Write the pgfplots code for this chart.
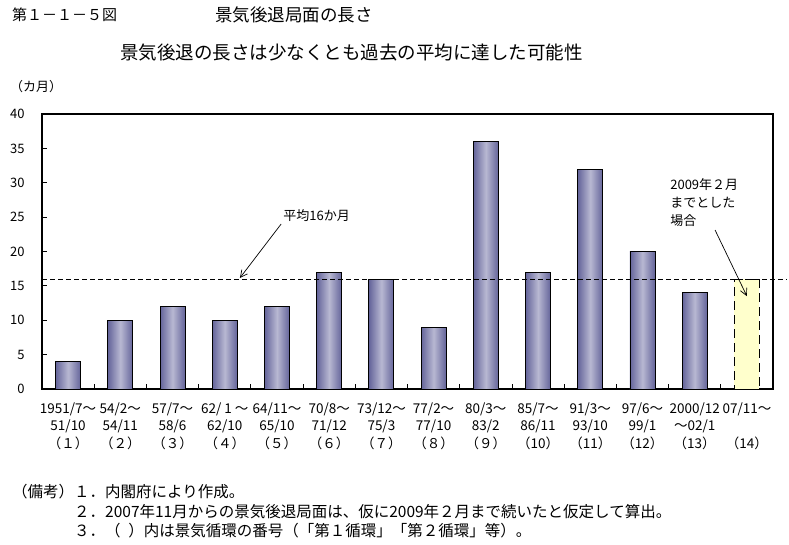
\documentclass[border=0pt]{standalone}
\usepackage{fontspec}
\setmainfont{Noto Sans CJK JP}
\usepackage{pgfplots}
\pgfplotsset{compat=1.18}
\usetikzlibrary{arrows.meta}
\definecolor{bardark}{HTML}{64649A}
\definecolor{barlight}{HTML}{B8B8D2}
\definecolor{paleyellow}{HTML}{FFFFCC}

\begin{document}
\begin{tikzpicture}
\path (0,0) rectangle (789pt,-544pt);
% titles
\node[anchor=west,inner sep=0,font=\fontsize{15}{15}\selectfont] at (12pt,-15pt) {第１－１－５図};
\node[anchor=west,inner sep=0,font=\fontsize{17.5}{17.5}\selectfont] at (215pt,-15pt) {景気後退局面の長さ};
\node[anchor=west,inner sep=0,font=\fontsize{18.5}{18.5}\selectfont] at (120pt,-53pt) {景気後退の長さは少なくとも過去の平均に達した可能性};
\node[anchor=west,inner sep=0,font=\fontsize{13}{13}\selectfont] at (10pt,-87pt) {（カ月）};

\begin{axis}[
  at={(42pt,-389pt)}, anchor=south west,
  scale only axis, width=731pt, height=275pt,
  ymin=0, ymax=40, ytick={0,5,...,40},
  xmin=0.5, xmax=14.5,
  xtick={1,...,14},
  minor xtick={1.5,2.5,...,13.5},
  xticklabels={
    {1951/7～\\51/10\\（１）},
    {54/2～\\54/11\\（２）},
    {57/7～\\58/6\\（３）},
    {62/ 1 ～\\62/10\\（４）},
    {64/11～\\65/10\\（５）},
    {70/8～\\71/12\\（６）},
    {73/12～\\75/3\\（７）},
    {77/2～\\77/10\\（８）},
    {80/3～\\83/2\\（９）},
    {85/7～\\86/11\\（10）},
    {91/3～\\93/10\\（11）},
    {97/6～\\99/1\\（12）},
    {2000/12\\～02/1\\（13）},
    {07/11～\\\mbox{}\\（14）}},
  xticklabel style={align=center,font=\fontsize{13.5}{17.5}\selectfont,yshift=-10pt},
  yticklabel style={font=\fontsize{13}{13}\selectfont,xshift=-14pt},
  /pgf/number format/assume math mode=true,
  tick pos=left,
  major tick length=5pt, minor tick length=5pt,
  major x tick style={draw=none},
  tick style={black,line width=0.8pt},
  axis line style={line width=1.6pt},
  clip=false,
  mybar/.style={ybar, bar width=25pt, bar shift=0pt, draw=black, line width=0.8pt,
    left color=bardark, right color=bardark, middle color=barlight},
]
\addplot[mybar] coordinates {(1,4)};
\addplot[mybar] coordinates {(2,10)};
\addplot[mybar] coordinates {(3,12)};
\addplot[mybar] coordinates {(4,10)};
\addplot[mybar] coordinates {(5,12)};
\addplot[mybar] coordinates {(6,17)};
\addplot[mybar] coordinates {(7,16)};
\addplot[mybar] coordinates {(8,9)};
\addplot[mybar] coordinates {(9,36)};
\addplot[mybar] coordinates {(10,17)};
\addplot[mybar] coordinates {(11,32)};
\addplot[mybar] coordinates {(12,20)};
\addplot[mybar] coordinates {(13,14)};
% assumed to Feb 2009
\addplot[ybar, bar width=25pt, bar shift=0pt, fill=paleyellow, draw=black,
  line width=0.8pt, dash pattern=on 9pt off 5pt]
  coordinates {(14,16)};
% average line
\addplot[black, line width=0.9pt, dash pattern=on 5pt off 3pt]
  coordinates {(0.5,16) (14.75,16)};
% annotations
\node[anchor=west,inner sep=0,font=\fontsize{13}{13}\selectfont] at (axis cs:5.12,25.16) {平均16か月};
\draw[-{Straight Barb[length=7pt,width=7pt]},line width=0.7pt] (axis cs:5.08,24.0) -- (axis cs:4.29,16.15);
\node[anchor=north west,inner sep=0,align=left,font=\fontsize{13}{18}\selectfont] at (axis cs:12.53,30.7) {2009年２月\\までとした\\場合};
\draw[-{Straight Barb[length=7pt,width=7pt]},line width=0.7pt] (axis cs:13.39,23.13) -- (axis cs:14.0,13.5);
\end{axis}

% notes
\node[anchor=north west,inner sep=0,font=\fontsize{15.5}{19.5}\selectfont] at (12pt,-484pt) {%
  \begin{tabular}{@{}l@{}l@{}}
  （備考） & １．内閣府により作成。\\
   & ２．2007年11月からの景気後退局面は、仮に2009年２月まで続いたと仮定して算出。\\
   & ３．（\hspace{0.5em}）内は景気循環の番号（「第１循環」「第２循環」等）。
  \end{tabular}};
\end{tikzpicture}
\end{document}
